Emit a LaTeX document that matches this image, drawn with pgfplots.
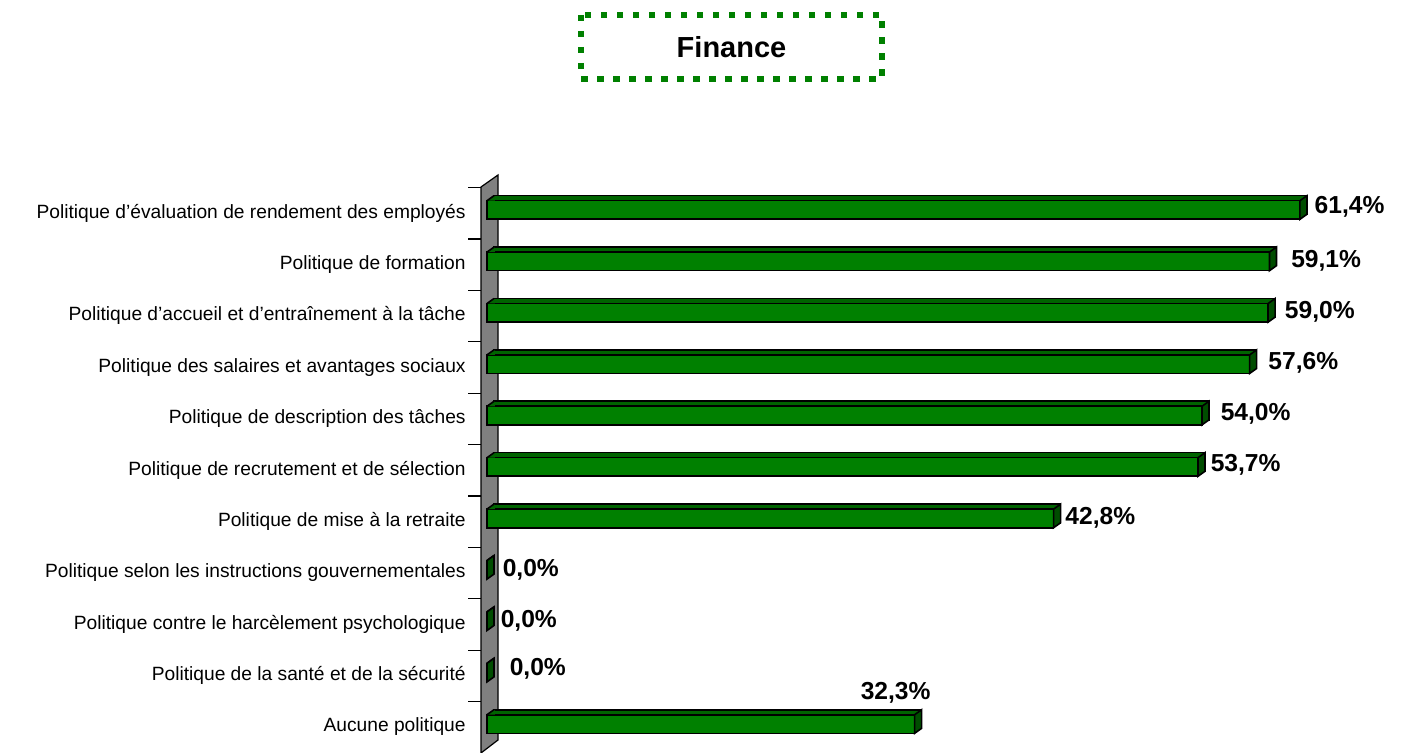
\documentclass[border=0pt]{standalone}
\usepackage{pgfplots}
\pgfplotsset{compat=1.18}
\usepackage{pgfplotstable}
\usepackage{fontspec}
\setmainfont{Liberation Sans}
\definecolor{frontg}{HTML}{008000}
\definecolor{topg}{HTML}{006400}
\definecolor{sideg}{HTML}{004D00}
\definecolor{wallg}{HTML}{808080}
\pgfdeclareplotmark{rface}{%
  \pgfpathmoveto{\pgfqpoint{0pt}{-4.65pt}}%
  \pgfpathlineto{\pgfqpoint{0pt}{4.65pt}}%
  \pgfpathlineto{\pgfqpoint{3.5pt}{7.15pt}}%
  \pgfpathlineto{\pgfqpoint{3.5pt}{-2.15pt}}%
  \pgfpathclose\pgfusepathqfillstroke}
\pgfdeclareplotmark{tlface}{%
  \pgfpathmoveto{\pgfqpoint{0.2pt}{4.65pt}}%
  \pgfpathlineto{\pgfqpoint{3.5pt}{7.0pt}}%
  \pgfpathlineto{\pgfqpoint{3.9pt}{6.8pt}}%
  \pgfpathlineto{\pgfqpoint{3.9pt}{4.65pt}}%
  \pgfpathclose\pgfusepathqfill
  \pgfpathmoveto{\pgfqpoint{0pt}{4.65pt}}%
  \pgfpathlineto{\pgfqpoint{3.5pt}{7.15pt}}%
  \pgfusepathqstroke}
\pgfplotstableread{
i v lx ly
0 61.4 7 1.5
1 59.1 10.5 0.5
2 59.0 8 0.5
3 57.6 9 0.5
4 54.0 9 1
5 53.7 6 1
6 42.8 5.5 0.5
7 0 7.5 0
8 0 6.5 0
9 0 11 2
10 32.3 -27.35 15.5
}\data
\begin{document}
\begin{tikzpicture}
\useasboundingbox (0,0) rectangle (700.5pt,376.5pt);
% title box
\draw[frontg, line width=3.25pt, dash pattern=on 3.25pt off 4.75pt] (290.5pt,369pt) rectangle (441pt,337pt);
\node[font=\bfseries\fontsize{14.5}{17}\selectfont] at (365.75pt,353pt) {Finance};
% wall
\draw[fill=wallg, line width=0.6pt] (240.5pt,0pt) -- (240.5pt,283pt) -- (249pt,289pt) -- (249pt,6.5pt) -- cycle;
\foreach \k in {0,...,10} \draw[line width=0.6pt] (234pt,{282.7pt-25.7pt*\k}) -- (240.5pt,{282.7pt-25.7pt*\k});
\begin{axis}[
  at={(243.5pt,1.65pt)}, anchor=south west, scale only axis,
  width=450.16pt, height=282.7pt,
  xmin=0, xmax=68, ymin=-0.5, ymax=10.5, y dir=reverse,
  axis line style={draw=none}, xtick=\empty,
  ytick={0,...,10}, major tick length=0pt,
  yticklabels={Politique d’évaluation de rendement des employés,Politique de formation,Politique d’accueil et d’entraînement à la tâche,Politique des salaires et avantages sociaux,Politique de description des tâches,Politique de recrutement et de sélection,Politique de mise à la retraite,Politique selon les instructions gouvernementales,Politique contre le harcèlement psychologique,Politique de la santé et de la sécurité,Aucune politique},
  yticklabel style={anchor=east, inner sep=0pt, xshift=-10.5pt, yshift=-1.5pt, font=\fontsize{9.6}{11}\selectfont},
  clip=false,
]
\addplot[xbar, bar width=9.3pt, fill=topg, draw=black, line width=0.8pt, xshift=3.5pt, yshift=2.5pt] table[x=v,y=i]{\data};
\addplot[xbar, bar width=9.3pt, fill=frontg, draw=black, line width=0.8pt,
  point meta=x,
  visualization depends on={\thisrow{lx} \as \lx},
  visualization depends on={\thisrow{ly} \as \ly},
  nodes near coords={\pgfmathprintnumber[fixed,zerofill,precision=1,use comma,assume math mode=true]{\pgfplotspointmeta}\%},
  every node near coord/.append style={anchor=west, inner sep=0pt, xshift=\lx pt, yshift=\ly pt, text=black, font=\bfseries\fontsize{12.3}{14}\selectfont},
] table[x=v,y=i]{\data};
\addplot[only marks, mark=tlface, mark options={fill=topg, draw=black, line width=0.8pt}] table[x expr=0,y=i]{\data};
\addplot[only marks, mark=rface, mark options={fill=sideg, draw=black, line width=0.8pt}] table[x=v,y=i]{\data};
\end{axis}
\end{tikzpicture}
\end{document}
